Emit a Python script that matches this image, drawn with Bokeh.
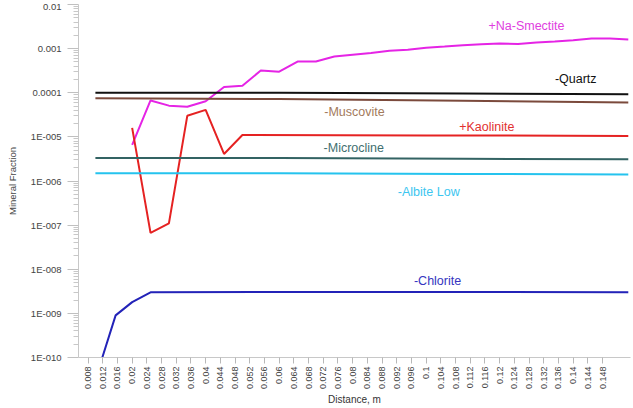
import math
from bokeh.plotting import figure
from bokeh.models import FixedTicker, Range1d
from bokeh.core.properties import value
from bokeh.embed import file_html
from bokeh.resources import INLINE

# ---------------- data ----------------
smectite_x = [0.02, 0.025, 0.03, 0.035, 0.04, 0.045, 0.05, 0.055, 0.06, 0.065, 0.07, 0.075,
              0.08, 0.085, 0.09, 0.095, 0.1, 0.105, 0.11, 0.115, 0.12, 0.125, 0.13, 0.135,
              0.14, 0.145, 0.15, 0.155]
smectite_y = [6.6e-6, 6.7e-5, 5.1e-5, 4.8e-5, 6.4e-5, 1.35e-4, 1.44e-4, 3.2e-4, 3.0e-4, 5.1e-4,
              5.1e-4, 6.6e-4, 7.3e-4, 8.0e-4, 9.0e-4, 9.4e-4, 1.05e-3, 1.12e-3, 1.2e-3, 1.25e-3,
              1.3e-3, 1.28e-3, 1.38e-3, 1.45e-3, 1.55e-3, 1.7e-3, 1.7e-3, 1.6e-3]

quartz_x = [0.01, 0.06, 0.11, 0.155]
quartz_y = [1.0e-4, 1.0e-4, 9.6e-5, 9.3e-5]

muscovite_x = [0.01, 0.06, 0.11, 0.155]
muscovite_y = [7.5e-5, 7.2e-5, 6.6e-5, 6.0e-5]

kaolinite_x = [0.02, 0.025, 0.03, 0.035, 0.04, 0.045, 0.05, 0.1, 0.155]
kaolinite_y = [1.6e-5, 6.7e-8, 1.1e-7, 3.0e-5, 4.1e-5, 4.1e-6, 1.1e-5, 1.08e-5, 1.05e-5]

microcline_x = [0.01, 0.06, 0.11, 0.155]
microcline_y = [3.3e-6, 3.3e-6, 3.2e-6, 3.1e-6]

albite_x = [0.01, 0.06, 0.11, 0.155]
albite_y = [1.5e-6, 1.5e-6, 1.45e-6, 1.4e-6]

chlorite_x = [0.0106, 0.0155, 0.02, 0.025, 0.06, 0.11, 0.155]
chlorite_y = [4.6e-11, 9.0e-10, 1.8e-9, 3.0e-9, 3.05e-9, 3.05e-9, 3.0e-9]

y_ticks = [1e-10, 1e-9, 1e-8, 1e-7, 1e-6, 1e-5, 1e-4, 1e-3, 1e-2]
y_tick_labels = ["1E-010", "1E-009", "1E-008", "1E-007", "1E-006", "1E-005", "0.0001", "0.001", "0.01"]

x_ticks = [0.008, 0.012, 0.016, 0.02, 0.024, 0.028, 0.032, 0.036, 0.04, 0.044, 0.048, 0.052,
           0.056, 0.06, 0.064, 0.068, 0.072, 0.076, 0.08, 0.084, 0.088, 0.092, 0.096, 0.1,
           0.104, 0.108, 0.112, 0.116, 0.12, 0.124, 0.128, 0.132, 0.136, 0.14, 0.144, 0.148]
x_tick_labels = ["0.008", "0.012", "0.016", "0.02", "0.024", "0.028", "0.032", "0.036", "0.04",
                 "0.044", "0.048", "0.052", "0.056", "0.06", "0.064", "0.068", "0.072", "0.076",
                 "0.08", "0.084", "0.088", "0.092", "0.096", "0.1", "0.104", "0.108", "0.112",
                 "0.116", "0.12", "0.124", "0.128", "0.132", "0.136", "0.14", "0.144", "0.148"]

series = [
    ("+Na-Smectite", smectite_x, smectite_y, "#e524e5", 0.1273, 3.3e-3),
    ("-Quartz", quartz_x, quartz_y, "#111111", 0.1407, 2.0e-4),
    ("-Muscovite", muscovite_x, muscovite_y, "#7b4a3c", 0.0805, 3.6e-5),
    ("+Kaolinite", kaolinite_x, kaolinite_y, "#e52222", 0.1165, 1.66e-5),
    ("-Microcline", microcline_x, microcline_y, "#336363", 0.0803, 5.5e-6),
    ("-Albite Low", albite_x, albite_y, "#25c3ee", 0.1007, 5.6e-7),
    ("-Chlorite", chlorite_x, chlorite_y, "#2323b8", 0.1031, 5.4e-9),
]
label_colors = {"-Muscovite": "#a27a5c", "-Microcline": "#3f6f6f", "-Albite Low": "#3cc6f0",
                "-Chlorite": "#3535c0", "+Na-Smectite": "#e03ee0", "+Kaolinite": "#e23030",
                "-Quartz": "#111111"}

FONT = "Liberation Sans"

p = figure(width=633, height=408, output_backend="svg", toolbar_location=None,
           y_axis_type="log",
           x_range=Range1d(0.0054, 0.1556), y_range=Range1d(1e-10, 1e-2),
           min_border_left=78, min_border_right=3, min_border_top=4, min_border_bottom=50)
p.outline_line_color = None
p.xgrid.visible = False
p.ygrid.visible = False

for name, xs, ys, col, lx, ly in series:
    p.line(xs, ys, line_color=col, line_width=2)
    p.text(x=[lx], y=[ly], text=[name], text_color=label_colors[name],
           text_font=value(FONT), text_font_size="12.5px",
           text_align="center", text_baseline="middle")

# y axis
minor = [m * t for t in y_ticks[:-1] for m in range(2, 10)]
p.yaxis.ticker = FixedTicker(ticks=y_ticks, minor_ticks=minor)
p.yaxis.major_label_overrides = {t: l for t, l in zip(y_ticks, y_tick_labels)}
p.yaxis.axis_label = "Mineral Fraction"
p.yaxis.axis_label_text_font = FONT
p.yaxis.axis_label_text_font_size = "9.5px"
p.yaxis.axis_label_text_font_style = "normal"
p.yaxis.axis_label_text_color = "#444444"
p.yaxis.axis_label_standoff = 10
p.yaxis.major_label_text_font = FONT
p.yaxis.major_label_text_font_size = "9.5px"
p.yaxis.major_label_text_color = "#444444"
p.yaxis.major_label_standoff = 6
p.yaxis.axis_line_color = "#c8c8c8"
p.yaxis.major_tick_line_color = "#c0c0c0"
p.yaxis.minor_tick_line_color = "#c8c8c8"
p.yaxis.major_tick_in = 0
p.yaxis.major_tick_out = 11
p.yaxis.minor_tick_in = 0
p.yaxis.minor_tick_out = 5

# x axis
p.xaxis.ticker = FixedTicker(ticks=x_ticks, minor_ticks=[])
p.xaxis.major_label_overrides = {t: l for t, l in zip(x_ticks, x_tick_labels)}
p.xaxis.major_label_orientation = math.pi / 2
p.xaxis.major_label_text_font = FONT
p.xaxis.major_label_text_font_size = "9px"
p.xaxis.major_label_text_color = "#444444"
p.xaxis.major_label_standoff = 3
p.xaxis.axis_line_color = "#c8c8c8"
p.xaxis.major_tick_line_color = "#b8b8b8"
p.xaxis.major_tick_in = 0
p.xaxis.major_tick_out = 6
p.xaxis.axis_label = "Distance, m"
p.xaxis.axis_label_text_font = FONT
p.xaxis.axis_label_text_font_size = "10px"
p.xaxis.axis_label_text_font_style = "normal"
p.xaxis.axis_label_text_color = "#333333"
p.xaxis.axis_label_standoff = 2

open("out.html", "w").write(file_html(p, INLINE))
